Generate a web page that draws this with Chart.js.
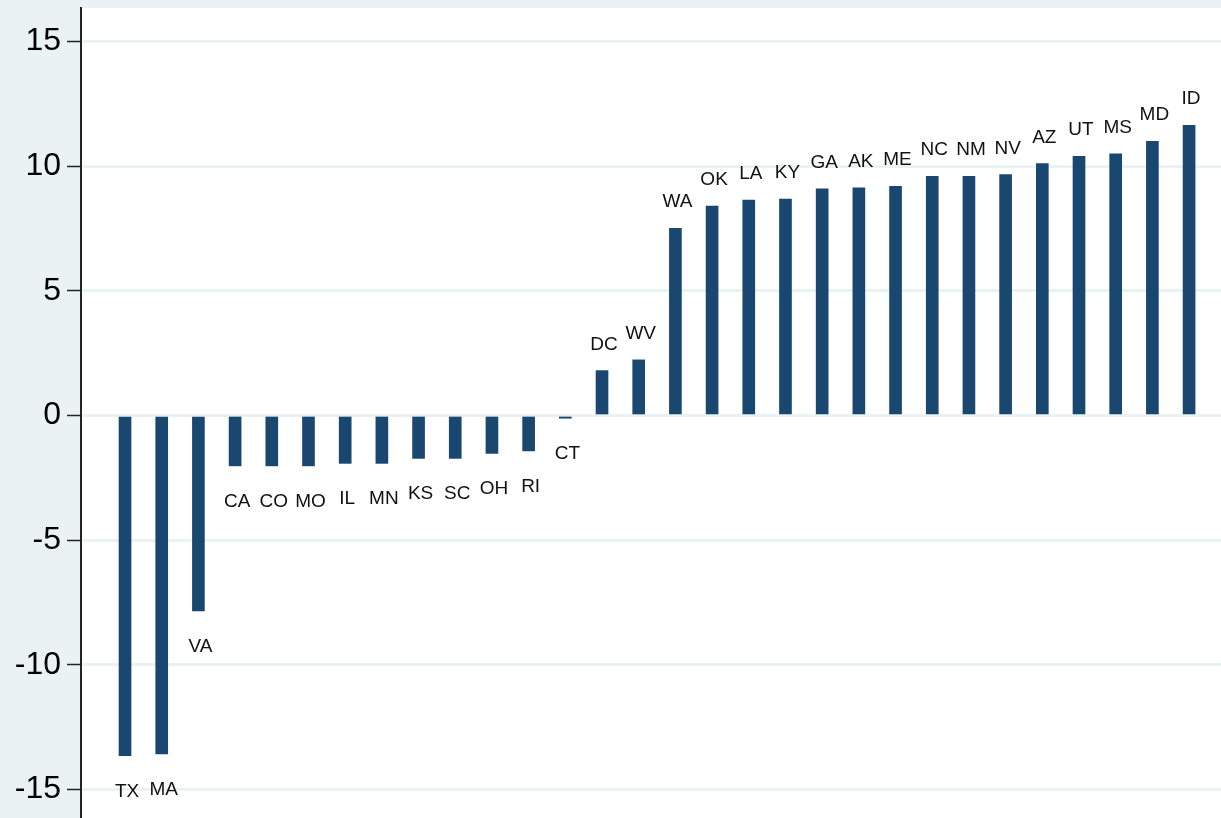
<!DOCTYPE html>
<html>
<head>
<meta charset="utf-8">
<script src="https://cdn.jsdelivr.net/npm/chart.js@4/dist/chart.umd.min.js"></script>
<style>
  html, body { margin: 0; padding: 0; background: #eaf2f3; }
  #chart { display: block; }
</style>
</head>
<body>
<canvas id="chart" width="1221" height="818"></canvas>
<script>
// states, sorted by value
const states = ['TX', 'MA', 'VA', 'CA', 'CO', 'MO', 'IL', 'MN', 'KS', 'SC', 'OH', 'RI', 'CT', 'DC', 'WV',
  'WA', 'OK', 'LA', 'KY', 'GA', 'AK', 'ME', 'NC', 'NM', 'NV', 'AZ', 'UT', 'MS', 'MD', 'ID'];

const values = [-13.64, -13.57, -7.84, -2.02, -2.02, -2.02, -1.92, -1.92, -1.72, -1.72, -1.52, -1.42, -0.11, 1.80, 2.23,
  7.51, 8.40, 8.64, 8.68, 9.09, 9.13, 9.19, 9.59, 9.59, 9.66, 10.10, 10.39, 10.49, 10.99, 11.64];

const yTicks = [-15, -10, -5, 0, 5, 10, 15];

const ctx = document.getElementById('chart').getContext('2d');

// white plot region, light frame around it
const plotBackground = {
  id: 'plotBackground',
  beforeDraw(chart) {
    const a = chart.chartArea;
    const c = chart.ctx;
    c.save();
    c.fillStyle = '#ffffff';
    c.fillRect(a.left, a.top, a.right - a.left, a.bottom - a.top);
    c.restore();
  }
};

// state codes above / below the end of each bar
const barLabels = {
  id: 'barLabels',
  afterDatasetsDraw(chart) {
    const c = chart.ctx;
    const meta = chart.getDatasetMeta(0);
    c.save();
    c.font = '19px "Liberation Sans", Arial, sans-serif';
    c.fillStyle = '#111111';
    c.textAlign = 'center';
    c.textBaseline = 'alphabetic';
    meta.data.forEach((bar, i) => {
      const y = values[i] >= 0 ? bar.y - 21 : bar.y + 41;
      c.fillText(states[i], bar.x + 2, y);
    });
    c.restore();
  }
};

const chart = new Chart(ctx, {
  type: 'bar',
  data: {
    datasets: [{
      data: values.map((v, i) => ({ x: i, y: v })),
      backgroundColor: '#1a476f',
      borderWidth: 0,
      barThickness: 12
    }]
  },
  options: {
    responsive: false,
    animation: false,
    layout: { padding: { top: 8, right: 0, bottom: 0, left: 0 } },
    plugins: {
      legend: { display: false },
      tooltip: { enabled: false }
    },
    scales: {
      x: {
        type: 'linear',
        display: false,
        offset: false,
        min: -1.2,
        max: 29.87
      },
      y: {
        min: -16.14,
        max: 16.34,
        afterFit(scale) {
          scale.width = 81;
          scale.paddingTop = 0;
          scale.paddingBottom = 0;
        },
        afterBuildTicks(scale) { scale.ticks = yTicks.map(v => ({ value: v })); },
        border: { display: true, color: '#222222', width: 2 },
        grid: {
          color: '#eaf2f3',
          lineWidth: 3,
          tickColor: '#222222',
          tickWidth: 1.5,
          tickLength: 14
        },
        ticks: {
          color: '#000000',
          padding: 6,
          font: { family: '"Liberation Sans", Arial, sans-serif', size: 32 }
        }
      }
    }
  },
  plugins: [plotBackground, barLabels]
});
</script>
</body>
</html>
